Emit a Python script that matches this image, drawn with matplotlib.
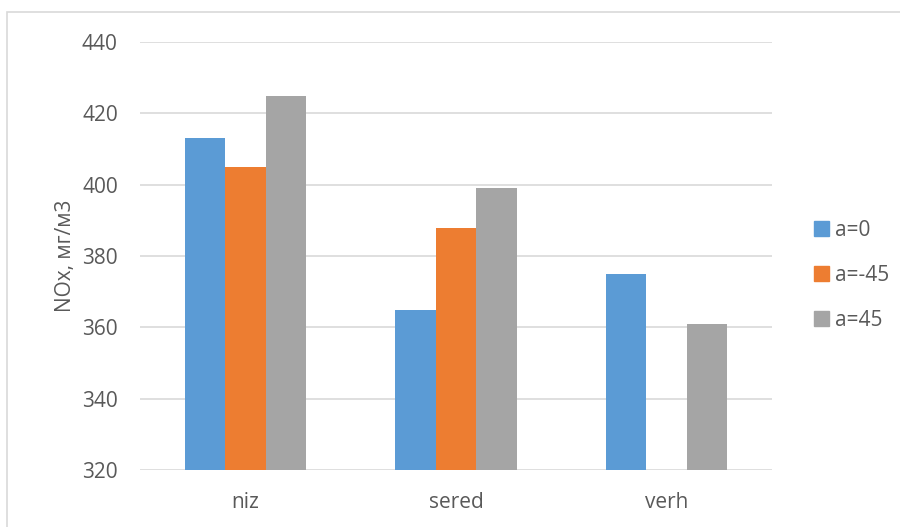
import matplotlib.pyplot as plt
from matplotlib.patches import Rectangle, Patch
import numpy as np

# данные по зонам
zones = ["niz", "sered", "verh"]
series = ["a=0", "a=-45", "a=45"]
a0 = [413, 365, 375]
a_m45 = [405, 388, np.nan]
a45 = [425, 399, 361]
colors = ["#5B9BD5", "#ED7D31", "#A5A5A5"]

plt.rcParams['font.family'] = ['Open Sans', 'DejaVu Sans']
txt = "#595959"
fs = 15

fig = plt.figure(figsize=(9, 5.27), dpi=100)
ax = fig.add_axes([0.1556, 0.108, 0.702, 0.812])

x = np.arange(len(zones))
w = 0.192
ymin = 320
for i, (vals, c) in enumerate(zip([a0, a_m45, a45], colors)):
    v = np.array(vals, dtype=float)
    ax.bar(x + (i - 1) * w, v - ymin, w, bottom=ymin, color=c, zorder=3)

ax.set_xlim(-0.5, 2.5)
ax.set_ylim(320, 440)
ax.set_yticks(range(320, 441, 20))
ax.set_xticks(x)
ax.set_xticklabels(zones)
ax.grid(axis='y', color="#D9D9D9", linewidth=1.2, zorder=0)
for s in ax.spines.values():
    s.set_visible(False)
ax.tick_params(length=0, labelsize=fs, colors=txt)
ax.tick_params(axis='y', pad=16)
ax.tick_params(axis='x', pad=16)
ax.set_ylabel("NOx, мг/м3", fontsize=fs, color=txt, labelpad=4)

handles = [Patch(color=c, label=s) for c, s in zip(colors, series)]
fig.legend(handles=handles, loc='center left', bbox_to_anchor=(0.884, 0.478),
           frameon=False, fontsize=fs, labelcolor=txt, labelspacing=1.15,
           handlelength=0.7, handleheight=0.7, handletextpad=0.3)

# рамка области диаграммы
fig.patches.append(Rectangle((7 / 900, -0.1), 1.1, 1 - 12 / 527 + 0.1,
                             transform=fig.transFigure, fill=False,
                             edgecolor="#D9D9D9", linewidth=1.2))

fig.savefig("out.png", dpi=100)
